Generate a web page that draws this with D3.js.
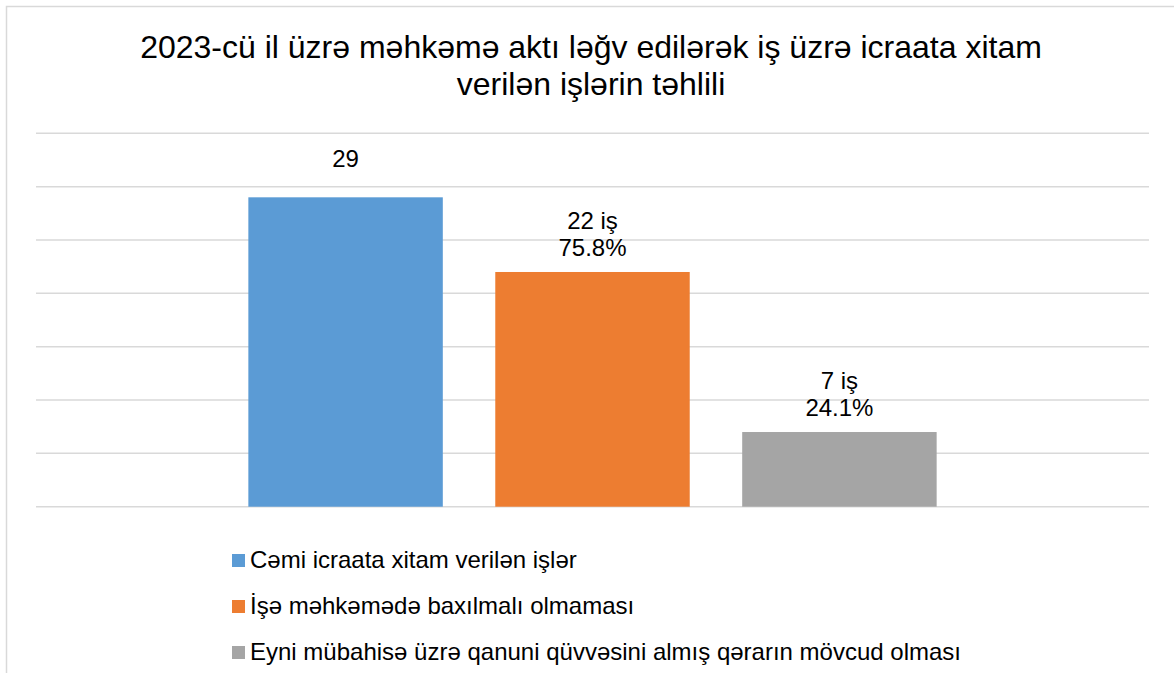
<!DOCTYPE html>
<html>
<head>
<meta charset="utf-8">
<script src="https://cdn.jsdelivr.net/npm/d3@7"></script>
<style>
  body { margin: 0; background: #fff; }
  svg { display: block; font-family: "Liberation Sans", Arial, sans-serif; }
</style>
</head>
<body>
<svg id="chart" width="1174" height="673"></svg>
<script>
// == Daten ==
const TITLE_LINES = [
    "2023-cü il üzrə məhkəmə aktı ləğv edilərək iş üzrə icraata xitam",
    "verilən işlərin təhlili"
];
const SERIES = [
    "Cəmi icraata xitam verilən işlər",
    "İşə məhkəmədə baxılmalı olmaması",
    "Eyni mübahisə üzrə qanuni qüvvəsini almış qərarın mövcud olması"
];
const VALUES = [29, 22, 7];
const LABELS = [["29"], ["22 iş", "75.8%"], ["7 iş", "24.1%"]];
const COLORS = ["#5B9BD5", "#ED7D31", "#A5A5A5"];
const Y_TICKS = [0, 5, 10, 15, 20, 25, 30, 35];

// == Layout ==
const W = 1174, H = 673;
const plot = {left: 36, right: 1149, top: 133.3, bottom: 506.7};

const svg = d3.select("#chart");

// Rahmen (geht rechts/unten über den Bildrand hinaus)
svg.append("rect")
    .attr("x", 6.5).attr("y", 6.5)
    .attr("width", W + 20).attr("height", H + 20)
    .attr("fill", "#fff")
    .attr("stroke", "#d9d9d9")
    .attr("stroke-width", 1.5);

// Titel
svg.append("text")
    .attr("text-anchor", "middle")
    .attr("font-size", 32)
    .attr("fill", "#000")
    .selectAll("tspan")
    .data(TITLE_LINES)
    .join("tspan")
    .attr("x", 591)
    .attr("y", (d, i) => 58 + i * 37)
    .text(d => d);

const x = d3.scaleBand()
    .domain(SERIES)
    .range([plot.left, plot.right])
    .paddingInner(0.2125)
    .paddingOuter(0.86);

const y = d3.scaleLinear()
    .domain([0, 35])
    .range([plot.bottom, plot.top]);

// Gitterlinien
svg.append("g")
    .selectAll("line")
    .data(Y_TICKS)
    .join("line")
    .attr("x1", plot.left).attr("x2", plot.right)
    .attr("y1", d => y(d)).attr("y2", d => y(d))
    .attr("stroke", "#d9d9d9")
    .attr("stroke-width", 1.5);

// Balken
svg.append("g")
    .selectAll("rect")
    .data(VALUES)
    .join("rect")
    .attr("x", (d, i) => x(SERIES[i]))
    .attr("width", x.bandwidth())
    .attr("y", d => y(d))
    .attr("height", d => y(0) - y(d))
    .attr("fill", (d, i) => COLORS[i]);

// Beschriftungen über den Balken
const LABEL_GAP = 16;
const LABEL_LINE = 27;
const FIRST_LABEL_LIFT = 14; // "29" sitzt etwas höher
svg.append("g")
    .selectAll("text")
    .data(VALUES)
    .join("text")
    .attr("text-anchor", "middle")
    .attr("font-size", 24)
    .attr("fill", "#000")
    .each(function(d, i) {
        const lines = LABELS[i];
        const cx = x(SERIES[i]) + x.bandwidth() / 2;
        const lift = i === 0 ? FIRST_LABEL_LIFT : 0;
        const base = y(d) - LABEL_GAP - lift - (lines.length - 1) * LABEL_LINE;
        d3.select(this).selectAll("tspan")
            .data(lines)
            .join("tspan")
            .attr("x", cx)
            .attr("y", (t, j) => base + j * LABEL_LINE)
            .text(t => t);
    });

// Legende
const legend = svg.append("g")
    .selectAll("g")
    .data(SERIES)
    .join("g")
    .attr("transform", (d, i) => `translate(232, ${554 + i * 46})`);
legend.append("rect")
    .attr("width", 13).attr("height", 13)
    .attr("fill", (d, i) => COLORS[i]);
legend.append("text")
    .attr("x", 18)
    .attr("y", 14)
    .attr("font-size", 24)
    .attr("fill", "#000")
    .text(d => d);
</script>
</body>
</html>
